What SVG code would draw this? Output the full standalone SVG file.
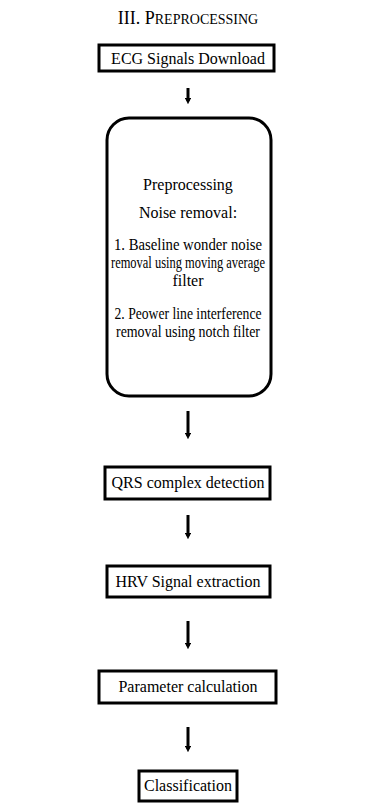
<svg xmlns="http://www.w3.org/2000/svg" width="376" height="812" viewBox="0 0 376 812">
<style>
.box{fill:#fff;stroke:#000;stroke-width:3}
.t{font-family:"Liberation Serif","Times New Roman",serif;font-size:16px;fill:#000;text-anchor:middle}
.c{stroke:#000;stroke-width:3;fill:none}
</style>
<defs>
<marker id="ah" viewBox="0 0 6 6" refX="3" refY="3" markerWidth="2.2" markerHeight="2.2" orient="auto" markerUnits="strokeWidth">
<path d="M0,0 L6,3 L0,6 z" fill="#000"/>
</marker>
</defs>
<rect width="376" height="812" fill="#fff"/>
<text class="t" x="188" y="24"><tspan font-size="18">III. P</tspan><tspan font-size="14">REPROCESSING</tspan></text>
<g id="connectors">
<line class="c" x1="188" y1="88" x2="188" y2="101" marker-end="url(#ah)"/>
<line class="c" x1="188" y1="411" x2="188" y2="436" marker-end="url(#ah)"/>
<line class="c" x1="188" y1="515" x2="188" y2="536" marker-end="url(#ah)"/>
<line class="c" x1="188" y1="621" x2="188" y2="646" marker-end="url(#ah)"/>
<line class="c" x1="188" y1="727" x2="188" y2="749" marker-end="url(#ah)"/>
</g>
<g id="n1">
<rect class="box" x="99" y="45" width="175" height="26"/>
<text class="t" x="188" y="63.5">ECG Signals Download</text>
</g>
<g id="n2">
<rect class="box" x="107" y="118" width="164" height="278" rx="22"/>
<text class="t" x="188" y="190">Preprocessing</text>
<text class="t" x="188" y="218">Noise removal:</text>
<text class="t" x="188" y="250" textLength="148" lengthAdjust="spacingAndGlyphs">1. Baseline wonder noise</text>
<text class="t" x="188" y="268" textLength="154" lengthAdjust="spacingAndGlyphs">removal using moving average</text>
<text class="t" x="188" y="286">filter</text>
<text class="t" x="188" y="319" textLength="147" lengthAdjust="spacingAndGlyphs">2. Peower line interference</text>
<text class="t" x="188" y="337" textLength="144" lengthAdjust="spacingAndGlyphs">removal using notch filter</text>
</g>
<g id="n3">
<rect class="box" x="105" y="467" width="165" height="32"/>
<text class="t" x="188" y="488">QRS complex detection</text>
</g>
<g id="n4">
<rect class="box" x="107" y="566" width="163" height="31"/>
<text class="t" x="188" y="587">HRV Signal extraction</text>
</g>
<g id="n5">
<rect class="box" x="99" y="671" width="177" height="32"/>
<text class="t" x="188" y="692">Parameter calculation</text>
</g>
<g id="n6">
<rect class="box" x="139" y="771" width="98" height="30"/>
<text class="t" x="188" y="791">Classification</text>
</g>
</svg>
